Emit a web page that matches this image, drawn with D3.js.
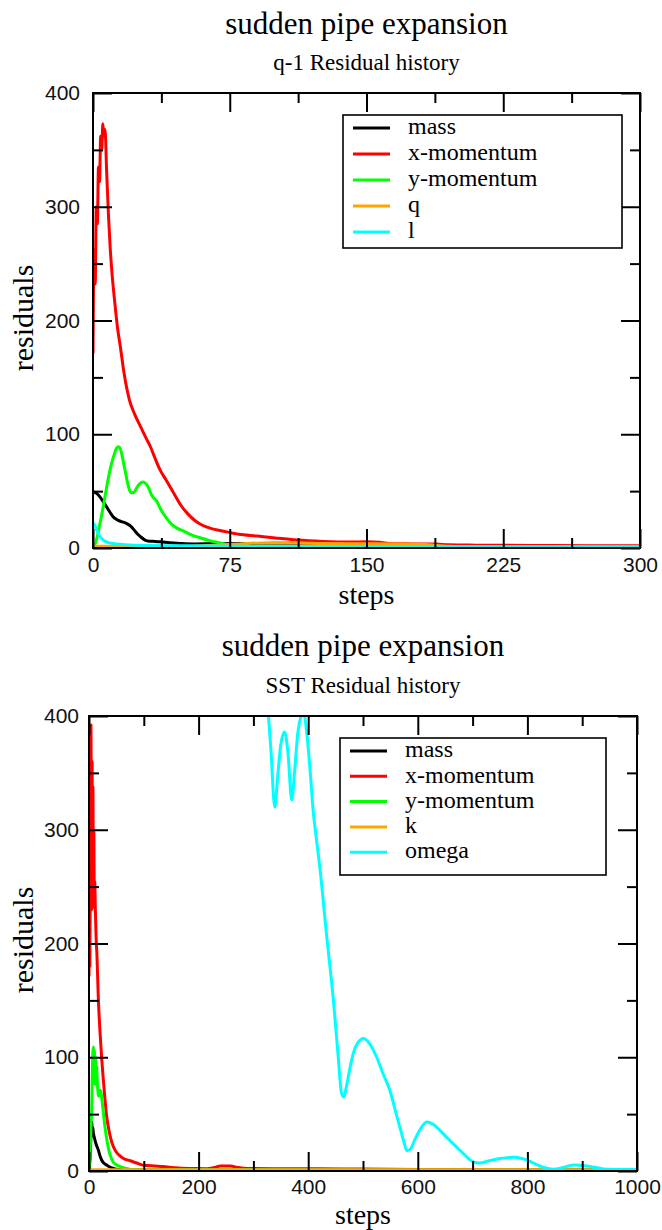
<!DOCTYPE html>
<html>
<head>
<meta charset="utf-8">
<script src="https://cdn.jsdelivr.net/npm/d3@7"></script>
<style>
  html, body { margin: 0; padding: 0; background: #fff; }
  svg { display: block; }
</style>
</head>
<body>
<svg id="chart" width="662" height="1230"></svg>
<script>
// ---- q-1 model residual history: [step, residual] ----
const q1Mass = [[0,49.5],[2,48],[3.8,45],[5.5,41],[7.5,36],[9.5,31],[11,27.5],[13,25],[15,23.5],[17,22.5],[19,21],[20.5,19.5],[22,17],[24,13],[26,10],[28.5,7],[31,6],[34,5.8],[37,5.5],[42,4.6],[48,4],[55,3.6],[70,3.8],[90,4],[110,4.2],[130,4.4],[145,4.7],[158,3.5],[175,2.5],[200,2],[240,1.5],[300,1.2]];
const q1XMom = [[0,171],[0.6,262],[1.2,232],[1.8,300],[2.4,285],[3,335],[3.6,322],[4.2,362],[4.8,350],[5.4,373],[6,362],[6.6,368],[7.5,330],[8.5,292],[9.5,262],[10.5,240],[12,215],[13.5,193],[15,177],[17,154],[20,130],[23,117],[26,107],[29,97],[31.5,89],[34,79],[37,68],[40,60],[44,49],[48,38],[52,30],[56,24],[60,20],[65,17],[71,15],[80,12],[90,10.5],[100,8.8],[112,7],[126,5.8],[140,5.2],[150,5.5],[157,5],[164,3.8],[175,3.6],[188,3.5],[195,2.8],[210,2.5],[240,2.2],[270,2],[300,2]];
const q1YMom = [[0,0],[1,3],[2,8],[3,15],[4,23],[5,31],[6,40],[7,49],[8,58],[9,66],[10,73],[11,79],[12,84],[13,88],[14,89],[15,87],[16,81],[17,73],[18,65],[19,57],[20,51],[21,48.5],[22,48.5],[23,50],[24,53],[25,55.5],[26,57],[27.5,58],[29,56.5],[30.5,53],[32,47],[35,41],[37.5,33],[40,27],[43,21],[46,17.5],[49.5,15],[54,11.5],[58.7,9],[64,6.5],[69.7,4.4],[75,2.5],[80,1.5],[90,1.2],[300,1.2]];
const q1Q = [[0,1.5],[10,1.5],[17,1.2],[30,1],[45,1.2],[60,2],[75,3],[87,4.2],[100,4.5],[112,4.5],[125,4],[140,3.8],[155,3.8],[170,3.5],[182,3],[195,1.5],[210,1],[250,0.8],[300,0.7]];
const q1L = [[0,22],[1,20],[2,16],[3.5,11],[5.7,7],[8,5],[11,4],[15,3.2],[20,2.6],[30,2.2],[50,2],[80,1.6],[120,1.3],[200,1.2],[300,1.2]];

// ---- SST model residual history: [step, residual] ----
const sstMass = [[0,2],[2,12],[3.5,30],[5,43],[6,36],[7,38],[8,33],[9,31],[11,27],[13,23.5],[15,21],[17,18.5],[19,15],[21,12],[23,9.7],[26,7.5],[29,6.2],[32,5.3],[38,3.5],[44,2.4],[50,1.6],[60,1.2],[100,1],[1000,0.8]];
const sstXMom = [[0,171],[0.8,209],[1.6,180],[2.6,300],[3.6,392],[4.3,300],[5,230],[5.7,360],[6.4,240],[7.2,338],[8,232],[8.8,300],[9.6,240],[10.5,255],[11.5,232],[13,205],[14.5,190],[17,152],[20,123],[23,100],[26,81],[29,64],[32,49],[36,37],[40,28],[44,22],[50,16.5],[56,13.5],[63,11],[75,9],[87,7],[100,5],[120,4.4],[136,4],[150,3],[170,2.4],[190,2.2],[215,2],[228,3],[240,4.4],[258,4.4],[272,3],[290,2.2],[350,2],[420,1.9],[500,1.7],[600,1.4],[700,1.1],[800,0.9],[1000,0.8]];
const sstYMom = [[0,0],[2,15],[4,45],[5,54],[6,82],[7,104],[8,109],[9,88],[10,106],[11,76],[12,100],[13,84],[14,92],[15,80],[16,72],[17,66],[18,67],[19,70],[20,71],[21.5,70],[23,65],[26,52],[29,39],[32,29],[35,21],[38,15],[41,11],[44,8],[50,5.5],[56,4],[62,3],[70,2],[80,1.2],[1000,0.8]];
const sstK = [[0,1],[100,1.2],[300,1.2],[500,1.1],[700,1.1],[1000,1]];
const sstOmega = [[326,410],[332,370],[339,320],[344,345],[350,375],[357,386],[363,368],[370,326],[375,350],[381,385],[387,400],[391,404],[397,387],[403,355],[409,317],[415,292],[421,268],[433,210],[446,150],[454,105],[461,68],[465,65],[470,75],[476,90],[482,103],[491,113],[501,116.5],[512,112],[525,100],[537,85],[549,71],[558,55],[567,39],[575,25],[580,18],[586,19],[595,28],[605,37],[616,43],[628,41],[640,36],[652,30],[671,21],[686,14],[701,8],[713,7],[730,9],[750,11],[774,12],[790,11],[800,9.5],[815,6],[835,2.4],[847,1.5],[865,3],[884,5.3],[908,4.4],[925,3],[945,1.5],[970,1.4],[1000,1.4]];

// ---- labels and ticks ----
const q1Legend = ["mass", "x-momentum", "y-momentum", "q", "l"];
const sstLegend = ["mass", "x-momentum", "y-momentum", "k", "omega"];
const seriesColors = ["#000000", "#ff0000", "#00ff00", "#ffa500", "#00ffff"];
const q1XTicks = [0, 75, 150, 225, 300];
const q1XMinor = [37.5, 112.5, 187.5, 262.5];
const sstXTicks = [0, 200, 400, 600, 800, 1000];
const sstXMinor = [100, 300, 500, 700, 900];
const yTicks = [0, 100, 200, 300, 400];
const yMinor = [50, 150, 250, 350];

const SERIF = "'Liberation Serif', 'Times New Roman', serif";
const SANS = "'Liberation Sans', Arial, sans-serif";
const LINE_W = 3;

const svg = d3.select("#chart");
svg.append("rect").attr("width", 662).attr("height", 1230).attr("fill", "#fff");
const defs = svg.append("defs");

function drawPanel(p) {
  const g = svg.append("g");
  const x = d3.scaleLinear().domain(p.xDomain).range([p.left, p.right]);
  const y = d3.scaleLinear().domain([0, 400]).range([p.bottom, p.top]);

  defs.append("clipPath").attr("id", p.id + "-clip")
    .append("rect")
    .attr("x", p.left).attr("y", p.top)
    .attr("width", p.right - p.left).attr("height", p.bottom - p.top);

  // residual curves, in series order
  const line = d3.line().x(d => x(d[0])).y(d => y(d[1])).curve(d3.curveMonotoneX);
  const lines = g.append("g").attr("clip-path", `url(#${p.id}-clip)`);
  p.series.forEach((s, i) => {
    lines.append("path").datum(s)
      .attr("d", line)
      .attr("fill", "none")
      .attr("stroke", seriesColors[i])
      .attr("stroke-width", LINE_W)
      .attr("stroke-linejoin", "round");
  });

  // inward ticks on all four sides
  const MAJ = 19, MIN = 10;
  const axes = [
    [d3.axisBottom(x).tickValues(p.xTicks).tickSize(-MAJ).tickPadding(p.xPad).tickFormat(d3.format("d")), 0, p.bottom],
    [d3.axisBottom(x).tickValues(p.xMinor).tickSize(-MIN).tickFormat(""), 0, p.bottom],
    [d3.axisTop(x).tickValues(p.xTicks).tickSize(-MAJ).tickFormat(""), 0, p.top],
    [d3.axisTop(x).tickValues(p.xMinor).tickSize(-MIN).tickFormat(""), 0, p.top],
    [d3.axisLeft(y).tickValues(yTicks).tickSize(-MAJ).tickPadding(p.yPad).tickFormat(d3.format("d")), p.left, 0],
    [d3.axisLeft(y).tickValues(yMinor).tickSize(-MIN).tickFormat(""), p.left, 0],
    [d3.axisRight(y).tickValues(yTicks).tickSize(-MAJ).tickFormat(""), p.right, 0],
    [d3.axisRight(y).tickValues(yMinor).tickSize(-MIN).tickFormat(""), p.right, 0]
  ];
  axes.forEach(([ax, tx, ty]) => {
    const a = g.append("g").attr("transform", `translate(${tx},${ty})`).call(ax.tickSizeOuter(0));
    a.select(".domain").remove();
    a.selectAll(".tick line").attr("stroke", "#000").attr("stroke-width", 2);
    a.selectAll(".tick text").attr("font-family", SANS).attr("font-size", 21).attr("fill", "#111");
  });

  // frame
  g.append("rect")
    .attr("x", p.left).attr("y", p.top)
    .attr("width", p.right - p.left).attr("height", p.bottom - p.top)
    .attr("fill", "none").attr("stroke", "#000").attr("stroke-width", 2);

  // titles and axis labels
  const cx = (p.left + p.right) / 2;
  g.append("text").attr("x", cx).attr("y", p.titleY).attr("text-anchor", "middle")
    .attr("font-family", SERIF).attr("font-size", 31).text(p.title);
  g.append("text").attr("x", cx).attr("y", p.subtitleY).attr("text-anchor", "middle")
    .attr("font-family", SERIF).attr("font-size", 23).text(p.subtitle);
  g.append("text").attr("x", cx).attr("y", p.xLabelY).attr("text-anchor", "middle")
    .attr("font-family", SERIF).attr("font-size", 28).text("steps");
  g.append("text").attr("transform", `translate(33,${p.yLabelY}) rotate(-90)`)
    .attr("text-anchor", "middle")
    .attr("font-family", SERIF).attr("font-size", 30).text("residuals");

  // legend
  const L = p.legend;
  const lg = g.append("g");
  lg.append("rect").attr("x", L.x0).attr("y", L.y0)
    .attr("width", L.x1 - L.x0).attr("height", L.y1 - L.y0)
    .attr("fill", "#fff").attr("stroke", "#000").attr("stroke-width", 1.6);
  p.labels.forEach((lab, i) => {
    const ey = L.firstY + i * L.gap;
    lg.append("line").attr("x1", L.lineX0).attr("x2", L.lineX1).attr("y1", ey).attr("y2", ey)
      .attr("stroke", seriesColors[i]).attr("stroke-width", LINE_W);
    lg.append("text").attr("x", L.textX).attr("y", ey).attr("dy", "0.26em")
      .attr("font-family", SERIF).attr("font-size", 24).text(lab);
  });
}

drawPanel({
  id: "q1", left: 93, right: 640, top: 93, bottom: 548, xDomain: [0, 300],
  xTicks: q1XTicks, xMinor: q1XMinor, xPad: 9, yPad: 13,
  series: [q1Mass, q1XMom, q1YMom, q1Q, q1L], labels: q1Legend,
  title: "sudden pipe expansion", subtitle: "q-1 Residual history",
  titleY: 34, subtitleY: 70, xLabelY: 604, yLabelY: 318,
  legend: { x0: 343, y0: 115, x1: 622, y1: 248, firstY: 128, gap: 26, lineX0: 353, lineX1: 390, textX: 408 }
});

drawPanel({
  id: "sst", left: 89, right: 637, top: 716, bottom: 1171, xDomain: [0, 1000],
  xTicks: sstXTicks, xMinor: sstXMinor, xPad: 8, yPad: 10,
  series: [sstMass, sstXMom, sstYMom, sstK, sstOmega], labels: sstLegend,
  title: "sudden pipe expansion", subtitle: "SST Residual history",
  titleY: 656, subtitleY: 693, xLabelY: 1224, yLabelY: 940,
  legend: { x0: 340, y0: 738, x1: 606, y1: 875, firstY: 751, gap: 25.3, lineX0: 350, lineX1: 387, textX: 405 }
});
</script>
</body>
</html>
